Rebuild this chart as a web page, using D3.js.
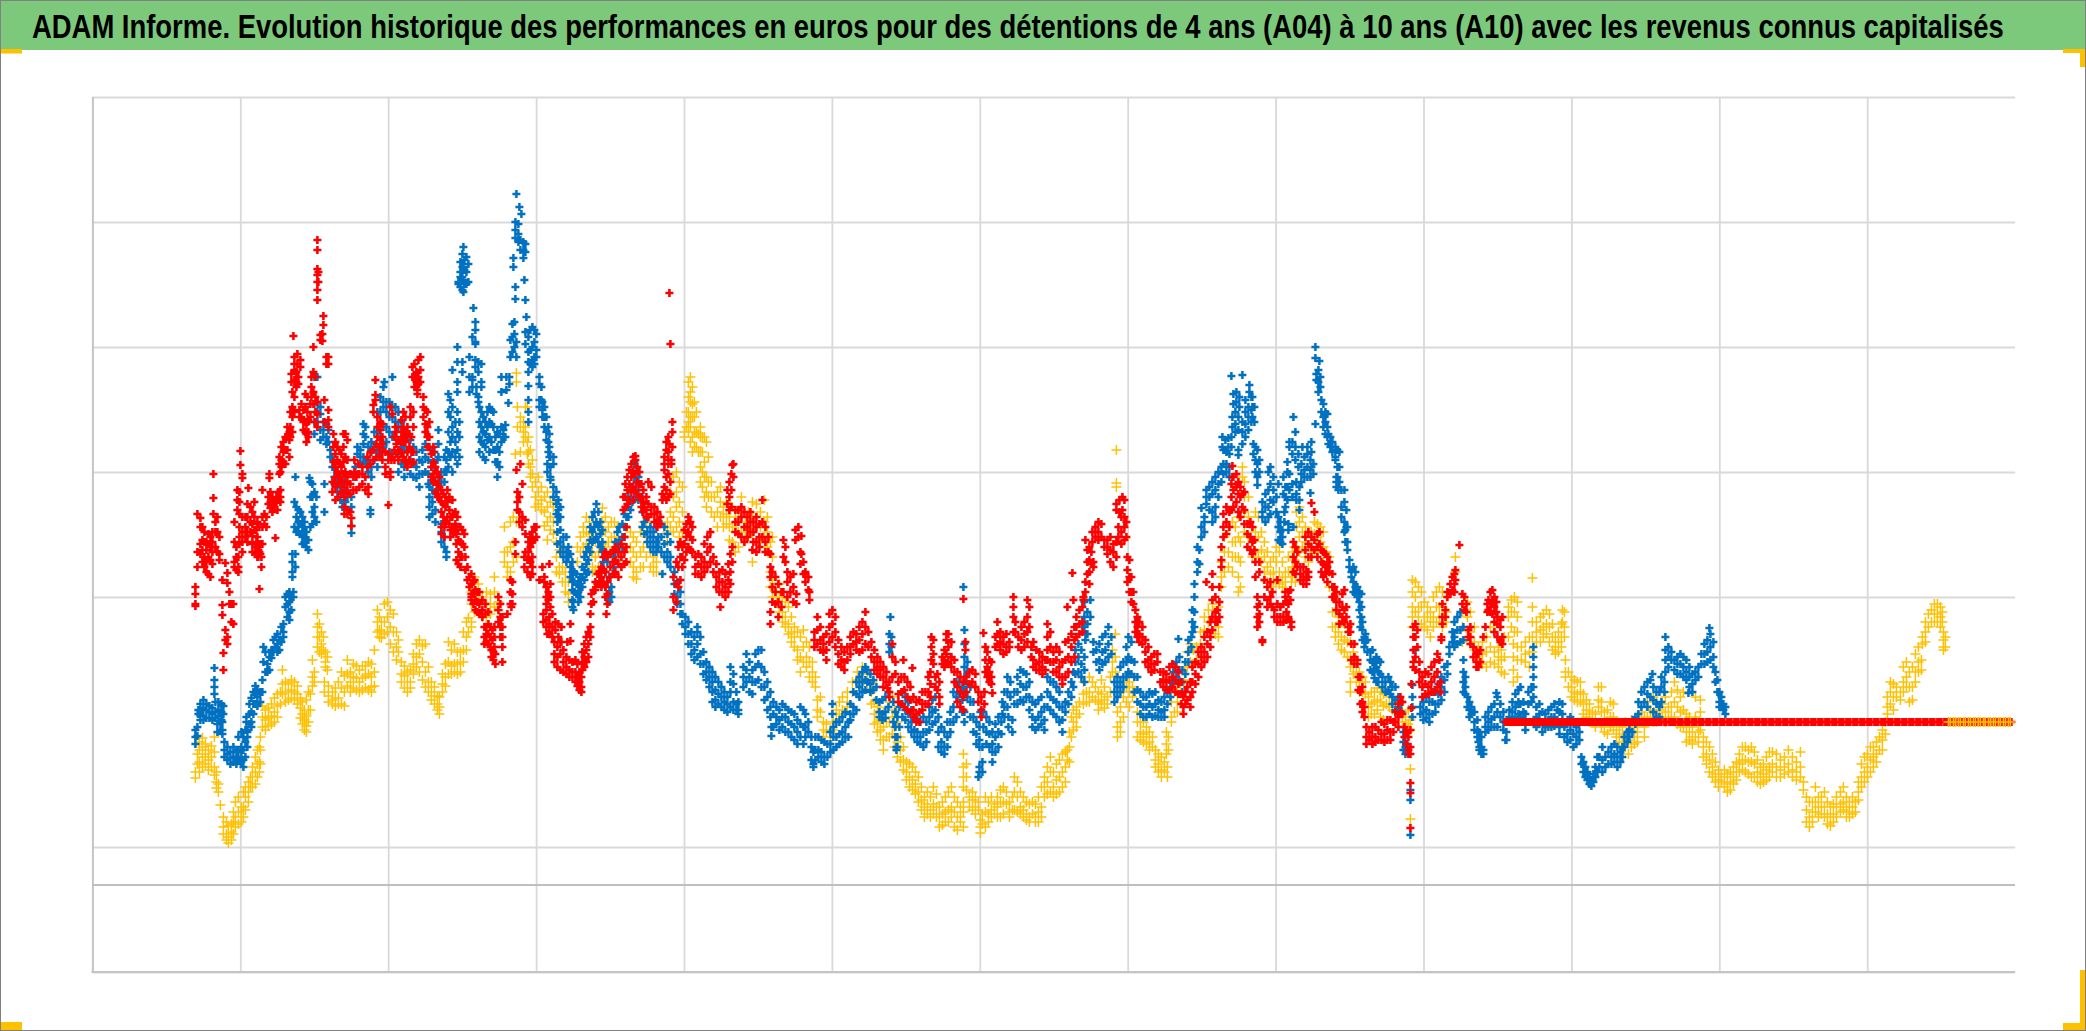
<!DOCTYPE html>
<html><head><meta charset="utf-8">
<script src="https://cdnjs.cloudflare.com/ajax/libs/d3/7.8.5/d3.min.js"></script>
<style>html,body{margin:0;padding:0;background:#fff}svg{display:block}</style>
</head><body><svg id="c" width="2086" height="1031"></svg>
<script>
const titleText = "ADAM Informe. Evolution historique des performances en euros pour des détentions de 4 ans (A04) à 10 ans (A10) avec les revenus connus capitalisés";
const xTicks = [0,147.9,295.8,443.7,591.6,739.5,887.4,1035.3,1183.2,1331.1,1479,1626.9,1774.8];
const yTicks = [750,875,1125,1250,1375,1500,1625];
const axisCrossing = 837;
// rows: [date index, value, value, ...]
const a10Rows = [
[103,950,944],[105,958,968],[107,980,972,960,950],[110,984,975,965,955],[113,978,968,958],[116,972,962,952],[119,976,965,955],[122,985,970,955,947],[124,950,940,934],[126,938,930],[128,917],[131,905,895,888],[134,900,888,882],[136,896,885,879],[139,898,890,882],[141,910,900,888],[143,920,905,895],[146,925,910,898],[149,915,905,900],[151,930,915,905],[153,935,925,912],[156,940,930,920],[158,945,935],[160,955,945,935],[163,965,950,938],[165,972,958,945],[167,975,960,950],[168,985,972,958],
[170,1016,1005,995],[173,1012,1002,992],[176,1014,1004,996],[179,1018,1006,998],[182,1024,1010,1000],[185,1028,1016,1005],[188,1030,1018],[190,1052,1038,1028],[193,1040,1030,1020],[196,1038,1030,1022],[199,1042,1032,1024],[202,1040,1030,1022],[205,1036,1028,1018],[208,1024,1014,1004],[210,1020,1008,998],[212,1012,1002,992],[214,1022,1006,996,990],[216,1030,1012,1000],[218,1028,1012],[220,1062,1045,1036],[222,1050,1040],[225,1108,1095,1085,1075],[227,1098,1085,1070],[229,1090,1078,1068],[231,1085,1072],[233,1060,1070,1055],[235,1065,1052],[232,1040,1030],[236,1036,1026,1020],[240,1030,1022,1018],[243,1034,1024,1016],[246,1040,1024,1018],[249,1050,1034,1018],[252,1046,1030,1016],[255,1062,1048,1036],[258,1050,1040,1030],[261,1058,1045,1034],[264,1056,1044,1032],[267,1052,1040,1030],[270,1056,1044,1032],[273,1056,1046,1034],[276,1060,1048,1032],[279,1058,1045,1035,1030],[282,1072,1050,1036],[285,1112,1100,1090],[287,1105,1092,1085],[289,1100,1090,1084],[292,1118,1100,1088],[295,1120,1105,1090],[298,1112,1095,1078],[301,1108,1090,1070],[304,1090,1075,1062],[306,1082,1070],[309,1060,1048,1040],[312,1056,1046,1034],[315,1050,1040,1030],[318,1052,1040,1034],[321,1068,1058,1048],[324,1078,1065,1055],[327,1082,1068,1050],[330,1076,1060,1042],[333,1078,1050,1035],[336,1055,1040,1030],[339,1040,1030,1022],[342,1035,1026,1018],[345,1026,1018,1012],[347,1025,1015,1008],[350,1048,1038,1030],[353,1058,1045,1036],[356,1080,1060,1048],[359,1072,1056,1048],[362,1078,1058,1050],[365,1070,1058,1048],[368,1070,1060,1050],[371,1090,1072,1060],[374,1100,1085,1072],[376,1104,1090],
[379,1130,1118,1100,1095],[382,1145,1125,1110],[386,1138,1125],[390,1125,1112,1105],[394,1130,1118,1105],[398,1128,1118,1108],[402,1145,1130,1115],[406,1120,1112],[412,1195,1170,1160],[415,1170,1155,1145],[418,1200,1175,1150],[421,1205,1180,1160],[423,1268],[424,1349,1340,1200,1165],[425,1315,1295],[428,1305,1295,1270],[431,1300,1290,1280],[433,1315,1295,1285],[435,1315,1280,1268],[436,1285,1270,1258],[438,1272,1255,1245],[440,1262,1248,1235],[443,1240,1225,1215],[446,1245,1230,1218],[449,1235,1222,1212],[452,1225,1210,1196],[455,1230,1215,1200,1182],[458,1242,1220,1205,1192],[461,1215,1200,1188],[464,1180,1165,1150],[467,1172,1155,1148],[470,1170,1155,1140],[473,1150,1140,1130],[476,1140,1128,1120],[485,1175,1160],[488,1185,1170],[491,1195,1190,1175],[494,1205,1190,1178],[497,1200,1188,1170],[500,1185,1170,1155,1150],[503,1180,1165,1152],[506,1170,1155],[510,1214,1200,1190,1178],[513,1205,1190,1175],[516,1195,1180,1165],[519,1200,1185,1170],[522,1200,1185,1172],[525,1195,1180],[528,1178,1165],[538,1190,1175,1160],[541,1185,1170,1155,1145],[544,1180,1165,1150,1143],[548,1190,1170,1155],[551,1200,1175,1155],[554,1200,1185,1165],[558,1195,1170,1155],[561,1165,1155,1150],[564,1175,1160,1150],[575,1200,1190,1180],[578,1230,1210,1195],[581,1245,1225,1205,1190],[584,1250,1230,1215,1195],[587,1240,1220,1200,1185],[590,1235,1210,1190],[592,1290,1285],[594,1310,1295],[596,1340,1325,1310,1300,1290],[598,1345,1330,1320,1305,1295,1280],[600,1335,1318,1305,1285,1270],[602,1320,1305,1290,1275],[604,1310,1290,1275],[606,1288,1270],[608,1295,1285,1270,1255,1240],[610,1285,1270,1250,1235],[612,1285,1260,1245,1225],[614,1280,1245,1230,1215],[616,1265,1240,1225],[619,1240,1225,1210],[622,1225,1205],[625,1230,1210,1195],[628,1235,1220,1205],[631,1215,1205,1195],[634,1220,1208,1198],[637,1205,1195,1182],[640,1215,1195,1180],[643,1205,1190,1175,1170],[646,1210,1190,1175],[649,1225,1205,1190],[653,1200,1190,1185],[656,1210,1195,1185],[660,1220,1205,1190,1160],[664,1218,1205,1195],[668,1210,1195,1180],[672,1222,1200,1185],[675,1205,1190,1175],[678,1180,1150,1135],[680,1185,1165,1142,1125],[684,1130,1120],[687,1138,1125,1110],[690,1125,1110,1100],[693,1120,1105,1095],[696,1115,1098,1088],[699,1105,1090,1080],[702,1095,1085,1075],[705,1090,1072,1062],[708,1085,1065,1050],[711,1092,1075,1060],[714,1080,1065,1055],[717,1075,1060,1045],[720,1060,1050,1040],[723,1045,1035],
[725,1022,1012,1005],[728,1025,1010],[731,1000,992,985],[734,998,990],[738,990,985],[741,1000,992],[744,1012,1002],[747,1020,1008],[750,1025,1012],[755,1030,1020,1015],[760,1040,1030],[765,1050,1042],[770,1055,1048],[775,1048,1038],[780,1040,1032],[779,1030,1018],[782,1020,1008,998],[785,1015,1000,990],[788,1002,992,982],[791,1010,995,982,972],[794,1000,985],[797,1020,1000,985],[800,1025,1005,988],[802,1012,995,975],[805,1000,980,965],[808,985,972,960],[811,975,962,952],[814,960,950,942],[817,958,945,935],[820,955,942,932],[823,950,938,928],[826,945,930,920],[829,935,922,912],[832,925,915,905],[835,930,918,908],[838,925,912,905],[841,935,918,908],[844,928,915,905],[847,915,905,895],[850,920,908,897],[853,925,910,900],[856,930,912,900],[859,935,915,905],[862,925,910,895],[865,920,905,892],[868,915,905,900],[871,968,955,945,935,920,910,895],[874,958,945,932],[877,925,915],[880,930,922,915,912],[883,925,915,908],[886,920,912],[888,902,895,889],[890,908,898],[893,925,910,895],[896,920,908,900],[899,925,912,905],[902,918,908],[905,925,915,905],[908,932,920,905],[911,935,920,908],[914,930,918],[917,920,910,905],[920,925,912],[922,945,930,912],[925,940,925,910],[928,930,915,908],[931,925,912,905],[934,920,908,902],[937,918,905,900],[940,920,908],[943,918,905,900],[946,925,910,900],[949,935,915,905],[952,945,935,925],[955,955,940,928],[958,965,950,930],[961,950,935,925],[964,958,942,928],[967,962,945,930],[970,968,950,935],[973,970,955,940],[975,972,962],[977,990,975,960],[979,1005,985],[981,1012,1000,992],[984,1015,1005,995],[987,1020,1008],[991,1040,1028,1018],[994,1030,1020],[997,1045,1030,1020],[1000,1040,1025],[1003,1035,1022],[1006,1030,1020,1012],[1009,1042,1028,1018],[1012,1035,1022,1014],[1015,1025,1018],[1018,1045,1030],[1020,1072,1060,1050],[1023,1088,1065,1050],[1024,1272,1239,1235],[1025,1030,1010,995,985],[1028,1035,1015,1000,990],[1031,1040,1025,1005],[1034,1045,1035,1020],[1037,1040,1030,1015],[1040,1035,1025],[1045,1010,1000,985],[1048,1000,990,982],[1051,1000,988,980],[1054,995,985,978],[1057,990,980,972],[1060,985,975],[1063,972,962,955],[1066,968,958,950],[1069,965,952,945],[1072,960,950],[1074,990,978,968],[1075,955,945],[1076,985,972],[1079,1020,1005,1000],[1082,1030,1010],[1085,1030,1020,1010],
[1088,1040,1030],[1092,1055,1042],[1095,1070,1055],[1098,1078,1060],[1101,1072,1058],[1104,1075,1062],[1108,1090,1078],[1112,1105,1092],[1116,1112,1100],[1120,1118,1105],[1123,1100,1088],[1126,1115,1095,1085],[1129,1160,1145,1135],[1132,1185,1170,1150],[1136,1195,1170,1155],[1140,1200,1180,1165,1150],[1143,1195,1180,1165],[1146,1205,1185,1165,1145,1130],[1148,1180,1160,1135],[1150,1255,1245],[1152,1240,1225,1210,1190],[1156,1225,1205,1185],[1160,1195,1180,1165],[1163,1210,1190,1170],[1166,1205,1185,1165],[1169,1190,1172,1160],[1172,1180,1165,1150],[1175,1170,1155,1140],[1178,1160,1148,1135],[1181,1165,1150,1140],[1184,1175,1160,1140],[1187,1170,1150,1138],[1190,1160,1145,1135],[1193,1150,1140,1130],[1196,1165,1150],[1199,1150,1140],[1200,1170,1155,1145],[1202,1175,1162],[1203,1155,1140],[1204,1210,1195,1175],[1207,1215,1200,1185,1170],[1210,1205,1190,1175],[1213,1195,1180,1165],[1216,1190,1175,1160],[1219,1190,1175,1165],[1222,1200,1188,1170],[1225,1198,1185,1170],[1228,1195,1180],[1231,1190,1175,1160],[1234,1170,1150],[1237,1165,1150,1135],[1240,1125,1110,1095],[1243,1110,1095,1085],[1246,1105,1090,1078],[1249,1100,1085,1072],[1252,1098,1082,1070],[1255,1095,1080,1065],[1258,1080,1065,1055,1040,1030],[1261,1070,1058,1048],[1264,1062,1050,1040],[1267,1050,1040,1030],[1270,1045,1030,1018],[1273,1040,1028],[1276,1025,1015,1005],[1279,1030,1018,1008],[1282,1030,1020,1008],[1285,1034,1022,1012],[1288,1030,1020,1005],[1291,1028,1016,1002],[1294,1030,1018],[1297,1025,1015],[1300,1018,1012],[1303,1020,1010],[1310,1010,1000],[1313,1005,995],[1316,1012,998,990],[1318,1002,992,953,903],
[1320,1142,1130,1115,1105,1095],[1323,1140,1125,1110],[1326,1135,1115,1105],[1329,1130,1115,1098],[1332,1120,1105,1095],[1335,1115,1105,1092],[1338,1110,1100,1085],[1341,1125,1105,1095],[1344,1130,1115,1100],[1347,1135,1115,1105],[1350,1130,1115,1095],[1354,1125,1110,1100],[1363,1165,1150],[1370,1110,1095,1080],[1375,1120,1105,1085],[1378,1110,1090],[1382,1095,1080,1072],[1386,1075,1065,1060],[1390,1080,1068,1058],[1394,1085,1070,1055],[1398,1095,1075,1060],[1402,1090,1070,1058],[1406,1075,1065,1055],[1409,1072,1062,1050],[1412,1085,1065,1048],[1416,1115,1105,1085],[1419,1122,1110,1095],[1421,1078,1065,1052,1040],[1422,1125,1110,1090],[1425,1120,1105,1090,1075,1062,1045],[1429,1075,1062],[1433,1080,1068,1060],[1437,1085,1070,1055],[1440,1144,1115,1100,1085,1070],[1444,1100,1090,1080],[1448,1105,1092,1080],[1451,1108,1095,1085],[1454,1112,1098,1088],[1457,1108,1095,1080],[1460,1098,1085,1072],[1463,1085,1075,1068],[1466,1090,1080,1070],[1469,1098,1085,1075],[1470,1112,1100],[1472,1110,1095,1085],[1473,1062,1050,1045],[1476,1050,1035],[1479,1045,1035,1025],[1482,1042,1030,1022],[1485,1040,1028,1020],[1488,1040,1030,1020],[1491,1028,1018,1008],[1494,1022,1012,1005],[1497,1018,1008,1000],[1500,1010,1000],[1503,1008,995],[1506,1035,1022,1015],[1509,1035,1020,1010,995],[1512,1010,1000,990],[1515,1012,1000,988],[1518,1020,1005,995],[1521,1018,1005,992],[1524,1000,992,985],[1527,998,988,980],[1530,995,985,975],[1533,1000,985,975],[1536,998,982,968],[1539,1002,990,975],[1542,995,985,978],[1545,1000,990,980],[1549,1010,1000],[1552,1005,995,985],[1555,1020,1005],[1558,1012,1003],[1561,1025,1010,1000],[1564,1020,1008,1000],[1567,1012,1002],[1570,1018,1005],[1573,1025,1010,1000],[1576,1015,1005],[1579,1030,1015,1005],[1582,1040,1020,1005],[1585,1032,1015,998],[1588,1025,1010,995],[1591,1030,1012,995],[1594,1008,990,980],[1597,1005,990,982],[1600,995,985,978],[1603,1025,1005,985],[1606,1000,990,980],[1608,1022,1010,992],[1611,985,975,965],[1614,980,968,958],[1617,975,962,950],[1620,968,955,945],[1623,960,948,940],[1626,952,942,935],[1629,948,940],[1632,952,945,935],[1635,948,938,930],[1638,950,940,932],[1641,955,945,938],[1644,960,950,942],[1647,968,958,950],[1650,975,962,952],[1653,975,962,950],[1656,972,960,948],[1659,975,960,945],[1662,970,958,945],[1665,962,950,940],[1668,955,945,938],[1671,958,948,940],[1674,965,952,942],[1677,970,955,945],[1680,970,958,950],[1684,968,955,945],[1688,962,952,945],[1692,965,955,948],[1696,972,958,950],[1700,965,952,945],[1704,960,950,942],[1708,970,955,945],[1711,940,932],[1714,925,912,900],[1717,920,905,895],[1720,920,910,900],[1723,935,920,910],[1726,925,915,905],[1729,925,915,908],[1732,930,915,905],[1735,920,908,898],[1738,915,905,896],[1741,918,908,900],[1744,925,915,905],[1748,930,918,910],[1751,935,920,912],[1754,925,915,905],[1757,920,910,905],[1760,925,915,908],[1763,920,910],[1766,940,930,922],[1769,958,945,935],[1772,965,950,940],[1775,968,955,945],[1778,975,962,950],[1781,975,965,955],[1784,980,968,960],[1787,985,972],[1790,992,982,972],[1793,1000,988],[1795,1025,1015,1008],[1798,1040,1030,1018],[1801,1038,1025,1012],[1804,1035,1025],[1808,1030,1022],[1811,1055,1040,1030],[1814,1060,1045,1035],[1817,1050,1035,1020],[1820,1055,1035,1022],[1823,1068,1050,1040],[1826,1075,1060,1050],[1829,1062,1052],[1830,1085,1078],[1833,1100,1090,1080],[1836,1108,1095],[1839,1112,1100],[1842,1118,1108,1100],[1845,1118,1108,1100],[1848,1115,1105,1095],[1850,1110,1100],[1851,1090,1082,1075,1072],[1853,1085,1075]
];
const a10FlatDates = [1856,1858,1861,1863,1866,1868,1871,1873,1876,1878,1881,1883,1886,1888,1891,1893,1896,1898,1901,1903,1906,1908,1911,1913,1916,1918];
const a04Rows = [
[103,992,985,978],[105,995,986],[106,1008,1012],[108,1018,1010,1006,1002],[111,1022,1014,1006,1002],[114,1018,1012,1004],[117,1016,1010,1004],[120,1014,1008,1002],[122,1054,1042,1035,1028],[123,1020,1010,1004],[125,998,990],[126,1020,1012,1006],[128,1000,992],[129,1018,1010,1002],[130,1000,992,988],[131,1016,1008],[132,980,972,965],[135,975,968,962],[138,970,964,958],[141,975,965,960],[144,972,964,958],[146,985,970,962],[149,990,975,965,960],[151,985,972,962,955],[153,992,980,965],[154,1005,1000,992],[155,990,985,975],[157,1018,1008,998],[159,1024,1010,1000,995],[161,1030,1018,1008],[163,1036,1028,1018],[165,1032,1025,1016],[168,1030,1020],[170,1042,1030],[171,1075,1060],[173,1070,1050],[175,1058,1050],[177,1065,1052],[179,1072,1064],[181,1082,1070],[183,1085,1075],[185,1088,1078,1070],[187,1082,1072],[189,1095,1080],[191,1098,1090,1085],[193,1125,1115],[195,1128,1118,1105],[197,1130,1120,1110,1102],[199,1125,1112],[200,1168,1160,1150,1145],[201,1130,1125],[202,1220,1195],[203,1245,1168,1155],[204,1215,1205,1190],[206,1212,1200,1190],[208,1210,1198,1188],[210,1205,1195,1185,1178],[212,1200,1190,1180],[214,1190,1182,1175],[216,1182,1172],[217,1244],[218,1240,1225,1195],[220,1238,1225,1210,1198],[222,1345,1318,1300,1288,1230,1215,1205],[224,1225,1200],[225,1345,1320,1310,1300],[228,1315,1308,1292,1282],[231,1300,1292,1285],[232,1238,1210],[234,1298,1285,1278],[236,1292,1280],[238,1272,1265],[240,1265,1255],[242,1255,1245,1238],[245,1250,1240,1230],[248,1245,1235,1222],[250,1240,1228,1215],[253,1245,1232,1220],[255,1238,1225,1212],[259,1225,1215,1196,1189],[263,1255,1245],[265,1275,1268],[268,1272,1265,1258],[271,1298,1288,1278,1265],[273,1295,1285,1260],[276,1275,1262,1250],[278,1212,1208],[279,1280,1270,1255,1245],[282,1290,1275,1262],[285,1310,1290,1270,1255],[288,1325,1310,1285,1270],[291,1335,1320,1315,1295,1275],[292,1340],[294,1320,1310,1295,1280],[297,1320,1305,1290,1270],[300,1345,1315,1305,1285,1265],[303,1315,1300,1285],[306,1310,1295,1270,1250],[309,1300,1275,1258],[312,1290,1272,1255,1245],[315,1288,1272,1258],[318,1282,1262,1248],[321,1275,1258,1245],[324,1270,1255,1244],[327,1262,1248,1235],[330,1272,1260,1248],[333,1278,1265,1250],[336,1275,1262,1248,1238],[337,1235,1225,1215,1205],[339,1272,1255,1242],[340,1232,1220,1208],[342,1270,1255,1240],[343,1228,1212,1200],[345,1262,1248,1232],[346,1292,1278,1265,1240,1225],[349,1250,1240,1198,1190,1180],[352,1265,1250,1240,1185,1175],[354,1272,1262,1250,1170,1165],[356,1328,1310,1290,1270,1255],[358,1322,1305,1280,1265],[360,1352,1315,1295,1285,1270,1250],[363,1300,1280,1265],[365,1375,1360,1340,1330,1310,1290,1272,1258],[366,1440,1438],[367,1300,1285,1265],[368,1460,1450,1445,1435],[370,1468,1455,1445,1432,1360,1350],[371,1475,1455,1442,1430],[372,1462,1452,1438],[374,1465,1450,1438],[376,1458,1440],[377,1365,1345,1330],[380,1385,1345,1342,1335],[381,1414],[383,1400,1392,1380,1378,1362,1355],[384,1335,1328],[386,1360,1350,1325,1320],[387,1315,1300,1285,1270],[389,1358,1340,1335,1310,1295,1280],[391,1305,1290,1278,1265],[393,1300,1288,1275,1262],[395,1310,1295,1282],[397,1315,1300,1285,1270],[399,1312,1298,1280],[401,1310,1295,1272],[403,1285,1272,1260],[405,1290,1275,1260,1245],[407,1288,1270,1255],[409,1345,1330,1295,1280],[411,1292,1285],[413,1297,1285],[414,1345,1332],[416,1319],[417,1345,1338],[418,1382,1365],[420,1398,1385,1370],[421,1464,1455],[422,1400,1388,1375],[423,1500,1492,1484,1435,1423],[424,1528,1380,1365],[426,1498,1488,1480],[427,1515],[428,1482,1472],[429,1508],[431,1480,1472,1464],[432,1442],[433,1478,1470,1422,1390,1378],[434,1405],[436,1385,1370,1360,1350,1336,1322,1310,1300],[438,1392,1372,1358],[440,1395,1375,1362,1355],[442,1392,1380,1365,1358],[444,1388,1372,1365],[447,1345,1338,1322,1315],[449,1335,1322],[450,1320,1312,1305],[452,1315,1305,1295],[454,1305,1290,1282],[455,1258,1250],[456,1295,1280,1270],[457,1288,1275,1265],[458,1265,1255,1245,1242],[461,1265,1258,1235,1225],[464,1230,1218,1208],[465,1200,1190,1178],[466,1222,1212,1205],[468,1215,1205,1192,1180,1170],[471,1185,1175,1165],[474,1185,1170,1160],[476,1175,1165],[478,1168,1155,1145],[480,1160,1150,1140,1132,1122,1115],[481,1120,1112],[482,1150,1140,1130],[484,1148,1138,1128],[486,1140,1130,1120],[488,1145,1135,1125],[490,1155,1145,1135],[492,1165,1152,1142],[494,1170,1158,1148],[496,1175,1162,1150],[498,1195,1182,1170],[500,1205,1190,1180],[502,1210,1195,1182],[504,1218,1200,1185],[506,1210,1195,1180],[508,1200,1188,1175],[510,1192,1180,1170],[511,1172,1160],[513,1165,1150,1135],[515,1160,1140,1125],[517,1145,1130,1120],[519,1135,1125],[521,1165,1155],[523,1180,1170],[525,1190,1178],[527,1195,1182,1175],[530,1198,1185,1175],[532,1208,1195,1185],[534,1215,1205,1195],[536,1225,1215,1205],[538,1235,1222,1212],[540,1250,1235,1220],[542,1260,1245,1230],[544,1255,1240,1225],[546,1245,1232,1222],[548,1238,1225],[550,1225,1210,1195],[552,1215,1200,1188],[555,1205,1190,1180],[558,1195,1185,1175],[561,1190,1180,1170],[564,1195,1180,1170],[566,1200,1185,1175],[569,1198,1185,1170],[570,1148],[572,1195,1178,1165],[575,1188,1170,1160],[578,1180,1165,1155],[582,1150,1138,1128],[585,1140,1125,1118],[588,1130,1118,1108],[590,1108,1098],[593,1105,1095,1088],[596,1100,1088,1078],[599,1090,1078,1068],[602,1085,1072,1062],[605,1095,1090,1078,1065],[608,1085,1068,1058],[611,1070,1058,1048],[614,1060,1050,1042],[617,1055,1045,1035],
[620,1050,1040,1030,1020],[623,1045,1032,1022,1015],[626,1040,1028,1018],[629,1035,1025,1015],[632,1030,1020,1012],[635,1025,1018,1010],[638,1055,1040,1030,1015],[641,1048,1038,1020,1012],[644,1030,1018,1012],[646,1020,1012,1008],[651,1055,1045,1035],[654,1068,1052,1040],[657,1060,1045,1030],[660,1052,1040,1028],[663,1068,1055,1040],[666,1072,1058,1042],[669,1072,1055,1035],[672,1050,1035,1022],[675,1040,1025,1012],[678,1030,1015,1005],[679,995,986],[681,1020,1008,995],[684,1015,1005,998],[687,1012,1002,992],[690,1018,1005,995],[693,1015,1005,990],[696,1012,1000,990],[699,1010,998,985],[702,1008,995,982],[705,1002,990,978],[708,1015,998,985],[711,1012,995,978],[713,1008,995,985],[716,1000,990],[719,985,975,962],[721,970,958,955],[723,985,972,962],[726,985,972,965],[729,982,970,960],[732,980,965,958],[735,978,965],[738,990,978,970],[740,1018,1008],[741,995,985,972],[744,1000,985,975],[747,1000,988,978],[750,1005,990,980],[753,1010,995,985],[756,1000,985],[758,1018,1008,1002],[761,1030,1015,1008],[764,1040,1028,1012],[767,1045,1035,1025],[770,1050,1040,1030],[773,1055,1042,1032],[775,1052,1040],[778,1048,1038,1030],[781,1042,1032],[784,1035,1022],[787,1020,1010,1005],[790,1022,1008,1002],[793,1025,1010,1004],[796,1030,1015],[797,1088,1078,1070],[798,1105],[799,1085,1075],[801,1020,1000],[803,1010,995,985],[804,975,972],[805,1005,985,975],[807,1015,995],[810,1030,1018,1005],[813,1025,1012,1002],[816,1020,1008,995],[819,1012,1000,990],[822,1005,992,985],[825,1002,990,980],[828,1000,985,978],[831,1005,990,975],[834,1000,990,980],[837,1015,1005,992],[840,1022,1010,998],[843,1025,1012,1000],[846,1005,990,975],[849,995,980,970],[852,990,975,968],[855,1000,985,975],[858,1010,1000,990],[861,1030,1015,1000],[864,1040,1025,1005],[867,1040,1028],[870,1035,1022,1010],[871,1135],[872,1092,1078,1065,1055,1045,1030,1010,1000],[875,1060,1050,1038,1025],[878,1035,1020,1005],[881,1020,1005,990],[884,1000,988,978],[886,945],[887,995,982,975,955,950],[888,1010],[890,975,960,950],[891,1010,995],[894,1005,990,978],[897,1000,988,975],[900,990,978,970,960],[903,998,985,970],[906,1005,990,975],[909,1000,988],[910,1020,1008],[912,1030,1015,1005],[915,1045,1030,1015],[916,1005,995],[918,1040,1025],[920,1002,990],[922,1030,1018],[925,1045,1030,1018],[928,1052,1038,1022],[931,1050,1035,1020],[934,1048,1035,1025],[937,1040,1025,1012],[940,1020,1005,995],[943,1018,1002,992],[946,1022,1005,995],[949,1025,1010,998],[952,1015,1002,992],[955,1045,1030,1015],[958,1040,1025,1012],[961,1040,1022,1008],[964,1035,1020,1005],[967,1030,1015,1000],[970,1015,1002,990],[973,1020,1010],[976,1030,1018],[979,1040,1025],[981,1050,1035],[983,1072,1060,1048],[986,1078,1065,1050],[989,1072,1058,1045],[992,1120,1105,1095,1065,1052,1040],[993,1088,1082],[995,1110,1098,1088],[998,1122,1105],[1001,1080,1070],[1004,1072,1060],[1007,1078,1062,1052],[1010,1085,1070,1058],[1013,1088,1072,1060],[1016,1095,1078,1065],[1019,1085,1068],[1022,1040,1030,1020],[1025,1045,1035,1025],[1028,1055,1040,1030],[1031,1060,1045,1035],[1034,1075,1060,1045],[1036,1085,1065,1050],[1039,1080,1062,1048],[1042,1060,1045,1030],[1045,1045,1032,1020],[1048,1030,1018,1008],[1051,1025,1015,1005],[1054,1025,1015,1005],[1057,1030,1018,1008],[1060,1028,1015,1005],[1063,1030,1018,1006],[1066,1022,1012,1005],[1069,1020,1010,1005],[1072,1025,1012,1005],[1075,1030,1018],[1078,1035,1025],[1081,1050,1040],[1084,1060,1045],[1086,1083],[1087,1065,1052,1040],
[1090,1052,1040,1030],[1093,1060,1048],[1096,1082,1070,1060],[1099,1085,1075],[1100,1112,1100,1090],[1102,1138,1125,1110,1095],[1105,1175,1160,1150],[1107,1172,1158],[1109,1214,1195,1185],[1112,1205,1200,1190],[1114,1232,1225,1218],[1117,1235,1225,1212],[1120,1240,1228,1210,1200],[1123,1245,1232,1215,1205],[1126,1250,1238,1225],[1129,1255,1240],[1130,1285,1275],[1131,1272,1258,1248],[1133,1282,1272],[1134,1270,1258,1250],[1136,1284,1275],[1137,1268,1255,1245],[1139,1346,1285,1275],[1140,1305,1295],[1141,1328,1318],[1143,1310,1298,1290],[1144,1330,1320],[1146,1305,1292,1272,1267],[1147,1325,1315],[1150,1347,1300,1290,1278],[1153,1322,1310,1298,1285],[1156,1315,1305,1292],[1157,1337,1330],[1159,1325,1312,1300],[1160,1325,1315,1305],[1161,1278,1268],[1162,1315,1300],[1163,1275,1262,1250],[1165,1272,1258,1245,1237],[1167,1262,1250],[1170,1220,1210,1205],[1173,1228,1215,1200],[1176,1250,1232,1215,1205],[1178,1255,1238,1222,1208],[1181,1245,1232,1220],[1184,1225,1210],[1186,1238,1205,1195,1182],[1188,1200,1190,1180],[1190,1192,1185,1178],[1191,1245,1228],[1192,1210,1200],[1193,1235,1225,1215],[1195,1260,1250,1235,1222],[1196,1198,1192],[1197,1280,1275,1248,1232],[1200,1280,1268,1238,1225],[1201,1305,1195],[1203,1290,1275,1262],[1204,1240,1228,1222],[1206,1268,1255],[1207,1235,1222,1212],[1209,1258,1248,1240],[1210,1275],[1212,1265,1252,1245],[1215,1275,1268,1255,1245],[1218,1262,1252,1245,1229],[1219,1280,1270,1255],[1221,1258,1248],[1223,1375,1364,1298],[1224,1348,1342],[1226,1352,1340,1330],[1227,1361],[1228,1345,1335],[1229,1322,1310],[1231,1318,1305,1295],[1233,1310,1300,1288],[1235,1308,1295,1285],[1236,1288,1278],[1238,1285,1275],[1240,1280,1270],[1243,1275,1265,1262],[1244,1245,1240,1235],[1245,1272,1255,1245],[1246,1240,1232],[1247,1270,1255,1240],[1249,1232,1215,1205],[1252,1232,1220,1200,1190],[1253,1192,1180],[1254,1212,1195],[1255,1195,1180,1172],[1257,1162,1155],[1259,1150,1145],[1261,1155,1140,1130],[1263,1150,1135,1128],[1265,1135,1125],[1267,1130,1120,1112],[1268,1105,1095],[1269,1128,1115,1105],[1270,1100,1092,1082],[1272,1085,1075],[1273,1088,1080],[1275,1082,1070],[1278,1070,1062,1052],[1280,1072,1060,1050],[1282,1060,1050,1044],[1284,1065,1055,1040],[1286,1062,1050,1040],[1288,1060,1048],[1290,1045,1035],[1293,1040,1030],[1296,1045,1032],[1298,1040,1028],[1300,1035,1025,1018],[1303,1035,1022,1012],[1306,1025,1015,1008],[1309,1020,1010],[1311,990,980,972],[1313,985,975,968],[1315,978,970],[1318,932,922,887],[1320,1037,1025,1015,1005],[1323,1072],[1328,1015,1008],[1331,1020,1010,1002],[1334,1025,1012,1004],[1337,1020,1008,1000],[1340,1030,1020,1008],[1343,1030,1018,1010],[1346,1038,1028,1018],[1349,1045,1035,1022],[1352,1055,1042,1030],[1355,1058,1048],[1357,1075,1068],[1360,1090,1080],[1362,1100,1085,1075],[1365,1105,1092,1078],[1368,1110,1092,1080],[1371,1095,1082,1062,1050,1040,1030],[1373,1045,1035,1028],[1375,1025,1015],[1377,1020,1012,1005],[1379,1015,1008],[1382,1010,1000,992],[1385,1002,992,985],[1386,990,980],[1387,985,975,972],[1389,985,975,968],[1391,972,968],[1393,1005,995,990],[1396,1010,1000,992],[1399,1015,1003,995],[1402,1018,1005,995],[1404,1029],[1405,1025,1010,995],[1408,1018,1005],[1411,1010,1000,992],[1413,982],[1414,1000,990,982],[1417,1012,1005],[1420,1020,1010],[1423,1028,1015,1005],[1426,1032,1020,1008],[1428,1035,1018,1005],[1431,1020,1010,1002],[1433,1008,998,992],[1436,1030,1018],[1439,1035,1020],[1441,1075,1065,1055,1045,1035,1025],[1444,1015,1005,995],[1447,1018,1008,998],[1450,1010,1000,990],[1453,1008,1000,995],[1456,1012,1002,995],[1459,1015,1005,995],[1462,1018,1005,996],[1465,1012,1002],[1467,1020,1010,995,988],[1470,1018,1008,1000],[1472,995,985],[1475,998,988,980],[1478,1005,992,982],[1481,1000,988,975],[1484,995,985,978],[1487,990,982],[1489,965,958],[1491,960,950],[1493,955,945],[1495,950,942],[1497,945,938],[1499,942,936],[1501,948,940],[1503,955,945],[1505,965,950],[1507,965,955],[1510,975,962,950],[1513,965,955],[1516,970,958],[1519,975,965,958],[1522,978,968,960],[1525,975,965,955],[1528,970,960],[1530,975,965],[1532,985,975],[1535,990,980],[1537,992,985],[1540,1000,990],[1543,1005,998],[1546,1020,1008],[1549,1030,1015],[1552,1035,1020],[1555,1040,1028,1015],[1558,1042,1025],[1560,1048],[1561,1035,1022,1010],[1564,1030,1018,1005],[1567,1030,1015,1005],[1569,1045,1035,1020],[1572,1040,1030],[1573,1085,1072,1062,1050],[1576,1075,1065,1055],[1579,1070,1062],[1582,1062,1052],[1585,1065,1058,1048],[1588,1068,1058,1048],[1591,1065,1055,1045],[1594,1062,1050,1042],[1596,1029],[1597,1055,1045,1035],[1600,1048,1038,1030],[1603,1050,1042],[1606,1055,1045],[1609,1068,1058],[1612,1078,1068,1058],[1615,1082,1070,1060],[1617,1094],[1618,1088,1075,1062],[1621,1080,1065,1055],[1623,1050,1040],[1625,1042,1030],[1627,1030,1020,1015],[1629,1025,1015],[1631,1018,1012],[1633,1015,1008]
];
const a07Rows = [
[103,1135,1128,1118,1116],[105,1208,1170,1155],[108,1204,1195,1178,1168],[110,1195,1182,1172,1160],[112,1190,1180,1165,1155],[114,1180,1172,1160,1150],[116,1188,1178,1165,1148],[118,1185,1175,1162,1145],[120,1190,1180,1170,1158],[121,1248,1224,1208],[123,1200,1190,1175],[125,1205,1190,1170],[127,1185,1168,1162],[130,1142,1117,1107],[131,1069,1052],[133,1159,1092,1082],[135,1149,1139,1085,1078],[137,1130,1118],[139,1118,1100],[141,1118,1098],[142,1200,1180,1160,1155],[144,1175,1165,1152],[145,1232,1222,1212],[146,1165,1155,1150],[147,1230,1220,1208,1195,1185,1178],[148,1271,1257],[150,1248,1244,1205,1190,1180,1170],[153,1205,1195,1185],[155,1218,1205,1190,1180],[156,1234],[158,1215,1200,1190],[160,1210,1198,1186,1178,1170],[162,1220,1205,1192],[163,1175,1168],[164,1192,1180],[165,1200,1185,1175,1165],[166,1172,1165],[167,1195,1178,1170,1133],[168,1178,1168],[169,1165,1155],[170,1232,1205,1195,1178],[172,1208,1198],[174,1205,1195],[176,1225,1218],[177,1248,1244],[178,1230,1220,1214],[180,1225,1218,1210],[182,1222,1215],[183,1184],[184,1225,1220],[185,1212],[186,1230,1222],[187,1265,1258,1248],[188,1250,1232,1225,1220],[189,1275,1262,1255],[191,1280,1270,1260],[193,1285,1272,1258],[195,1295,1285,1272],[197,1290,1282,1265],[198,1310,1295,1285],[199,1348,1340],[200,1330,1315,1305,1290],[201,1386],[202,1365,1358,1352,1342,1340,1325,1310],[204,1350,1340,1335],[205,1368,1358],[206,1345,1338],[207,1312,1305],[208,1362,1355],[209,1318,1305],[211,1312,1300,1292],[213,1328,1315,1300,1290],[214,1298,1288,1280],[215,1325,1310,1300],[216,1302,1290,1285],[218,1318,1305],[219,1345,1335,1325],[221,1375,1350,1330,1318],[223,1345,1325,1310,1300],[225,1482,1472,1453,1447,1440,1432,1422,1320,1308,1295],[226,1450,1440],[228,1387,1382],[230,1388,1381],[231,1406,1397],[232,1322,1300],[234,1365,1358],[236,1365,1358,1312,1302,1295],[240,1240,1230],[241,1288,1275,1260],[243,1280,1268,1255,1245,1235,1222],[245,1275,1262,1250],[246,1248,1238,1225],[247,1272,1258,1245],[249,1268,1255,1242,1240,1230],[251,1288,1275,1260,1248],[252,1235,1225,1215,1208],[253,1288,1265,1250],[255,1282,1262,1245,1240,1230,1212,1208],[258,1248,1238,1228,1210],[259,1204,1196],[261,1245,1232],[262,1262,1250],[264,1245,1232],[266,1258,1248],[267,1248,1235],[270,1255,1248,1238],[273,1245,1232],[275,1265,1255],[276,1235,1228],[278,1270,1258],[281,1317,1310,1272,1262],[283,1342,1327,1322],[284,1278,1265],[285,1305,1295,1285],[287,1275,1265],[288,1300,1292,1282],[290,1298,1285,1278,1270,1262],[293,1270,1255,1248],[296,1268,1262,1217],[298,1315,1250,1245],[299,1265,1262],[300,1308],[302,1285,1272,1262],[303,1295],[304,1290,1278,1268],[306,1282,1272,1262],[309,1302,1290,1280,1270],[311,1310,1295,1285,1280,1265],[313,1305,1290,1280,1260],[315,1295,1285,1270,1255],[317,1288,1275,1262],[318,1315,1305],[319,1285,1270,1258],[320,1355,1345],[321,1310,1295,1270,1260],[322,1358,1345,1335],[324,1350,1340,1335],[325,1332,1328],[326,1362,1345,1338],[328,1365,1352,1340],[331,1325,1315,1305],[333,1312,1298,1290],[335,1310,1295,1285,1275],[337,1300,1285,1275],[339,1268,1255,1245],[341,1275,1270,1260,1248,1240],[343,1255,1240,1230],[345,1250,1238,1225],[347,1245,1235,1225],[349,1232,1220,1210,1195,1188],[351,1228,1218,1205],[352,1195,1185],[353,1225,1215,1200],[355,1232,1220,1205],[357,1225,1212,1198],[358,1205,1192,1185],[360,1222,1205,1195],[361,1208,1195,1188],[363,1210,1198,1190],[364,1188,1178,1162],[365,1205,1195],[366,1182,1170,1158],[368,1195,1180,1165,1155],[370,1192,1178,1165],[372,1188,1175],[373,1165,1152],[375,1155,1142],[377,1145,1135],[379,1148,1138,1128,1125,1122],[381,1140,1128,1118],[382,1142,1130],[383,1132,1122,1112],[385,1130,1120,1110],[387,1130,1118,1108],[390,1122,1112,1105],[392,1095,1085,1078],[393,1118,1108],[394,1095,1088,1080],[396,1110,1098,1088,1078],[398,1095,1085,1075],[399,1072,1065],[400,1092,1082,1072],[401,1070,1062],[402,1095,1085,1075],[403,1068,1058],[406,1125,1112,1100],[408,1118,1105,1095,1085],[410,1105,1095,1085,1075,1060],[415,1108],[418,1142,1130,1118],[419,1115],[420,1140,1128,1118],[423,1180,1168],[424,1252],[425,1230,1220,1212],[427,1225,1210,1200],[428,1258],[430,1238,1205,1195],[432,1165,1155],[433,1202,1188,1170],[435,1162,1150],[436,1180,1170,1162],[438,1185,1175,1160,1145],[440,1190,1180,1165,1155,1148],[442,1195,1182],[444,1195,1185],[447,1142],[450,1155],[451,1108,1100],[452,1145,1140],[454,1135,1125,1118,1112,1102,1095],[455,1088],[456,1130,1122],[457,1158,1105,1098,1090],[458,1138,1125,1115],[460,1108,1095,1085],[462,1080,1068,1060],[463,1100,1092],[465,1075,1065,1055],[466,1098,1085],[468,1080,1068,1052],[469,1095,1080],[471,1072,1060,1050],[474,1065,1055,1048],[475,1080],[477,1062,1052,1045],[478,1098,1081],[480,1060,1050,1045],[483,1062,1050,1040],[485,1058,1045,1036],[487,1050,1040,1032],[489,1045,1035,1030],[490,1070,1060,1052],[492,1078,1065,1055],[494,1085,1072,1060],[496,1090,1078,1065],[498,1108,1095,1085],[499,1128,1118],[501,1132,1120],[503,1140,1132],[505,1148,1138],[507,1150,1140],[509,1155,1145,1135],[511,1165,1152,1140],[513,1170,1150,1135,1125],[514,1108],[515,1165,1140,1128,1118],[518,1168,1155,1145],[521,1172,1160,1148],[523,1175,1162,1150],[526,1170,1158,1145],[529,1178,1165,1155],[531,1225,1212],[532,1185,1170,1158],[533,1238,1225,1215],[534,1195,1175,1160],[535,1245,1232,1218],[537,1252,1238,1222],[539,1258,1245,1230],[541,1265,1250,1235,1222],[543,1266,1262,1248,1232],[545,1255,1240,1228],[547,1250,1238,1225],[549,1238,1225,1215],[551,1232,1220,1210],[554,1225,1212,1205],[556,1240,1218,1205],[559,1235,1215,1208],[562,1215,1208,1200],[565,1210,1202,1195],[568,1205,1198],[570,1228,1222],[572,1265,1258,1252,1235,1225],[574,1280,1272,1245,1232,1222],[576,1285,1270,1262,1258,1248,1225],[577,1429,1278],[578,1378,1240,1228],[579,1262,1258],[580,1300,1290,1275],[581,1145,1125,1112],[584,1160,1138,1120],[586,1175,1155,1135],[588,1180,1165,1142],[590,1175,1165,1155],[592,1192,1178,1162],[594,1198,1185,1170],[596,1205,1190,1175],[598,1200,1185,1172],[600,1195,1182,1170],[603,1165,1155,1148],[606,1168,1158,1148],[609,1165,1155,1145],[612,1178,1160,1150],[615,1185,1170,1155],[618,1190,1175,1160],[621,1165,1150],[624,1158,1145,1135],[627,1150,1140,1130],[628,1115],[630,1152,1140,1130],[633,1148,1135,1125],[635,1232,1218],[636,1158,1142,1130],[637,1240,1225,1212],[638,1168,1150,1138],[639,1248,1232,1215],[640,1257,1175,1160],[641,1258,1245],[643,1212,1200,1190],[646,1212,1200,1188],[649,1215,1205,1185],[652,1210,1195,1180],[655,1205,1195,1185],[658,1210,1200,1190],[660,1172],[661,1200,1190,1180],[664,1205,1195,1180,1170],[667,1198,1185,1175],[670,1222,1200,1185],[673,1195,1180,1170],[676,1185,1170],[678,1168,1155,1145,1110,1098],[680,1150,1135,1120],[683,1145,1130,1118],[686,1138,1120,1105],[689,1130,1115],[691,1182,1165,1130],[693,1175,1160],[695,1150,1140,1125],[698,1145,1130],[701,1148,1135,1120],[703,1192,1182],[704,1128,1118],[706,1195,1185],[708,1170,1158],[709,1186,1168],[711,1160,1148],[713,1150,1140],[716,1145,1132],[717,1130,1122],
[722,1090,1082,1075],[725,1105,1092,1078],[728,1095,1082,1072],[731,1085,1078,1070],[734,1088,1072,1062],[737,1108,1095,1080],[740,1112,1098,1085],[743,1105,1090,1075],[746,1082,1068,1058],[749,1075,1062,1055],[752,1070,1060,1052],[755,1075,1062],[758,1085,1075,1068],[761,1090,1078],[764,1088,1080,1072],[767,1095,1082,1070],[770,1100,1088,1072],[773,1110,1095,1078],[776,1090,1075],[779,1080,1065],[782,1072,1060,1052],[785,1065,1055,1048],[788,1060,1052,1045],[791,1055,1045,1035],[794,1050,1040],[795,1034],[797,1040,1030,1025],[800,1078,1065,1045],[803,1060,1048],[806,1040,1028,1020],[809,1045,1030,1018],[811,1062],[812,1045,1032,1015],[815,1040,1025,1012],[818,1035,1022,1010],[820,1054],[821,1025,1012,1005],[824,1020,1008,1000],[827,1022,1010,1000],[830,1030,1018,1012],[833,1030,1018],[836,1045,1030,1018],[838,1050,1038,1025],[839,1085,1075,1062],[841,1082,1068,1058],[843,1045,1035],[845,1048,1032],[847,1040,1025,1018],[850,1065,1058],[852,1072,1062,1055],[854,1088,1082,1068,1058],[856,1088,1075,1060],[859,1080,1065,1055],[862,1062,1050,1040],[865,1050,1035,1020],[868,1045,1030,1015],[871,1123,1040,1025,1012],[873,1080,1072],[874,1045,1030],[877,1050,1038],[880,1052,1040],[883,1048,1035],[886,1030,1020],[889,1025,1012,1005],[891,1089],[892,1030,1018],[893,1075,1062,1050],[895,1070,1055,1045],[897,1062,1050,1040],[899,1060,1045,1038],[900,1029],[903,1085,1075],[905,1100,1088,1078],[908,1090,1080,1072],[911,1085,1078,1068],[914,1088,1075,1070],[917,1080,1075],[921,1125,1115,1105,1090],[923,1100,1090],[926,1085,1075],[929,1095,1082,1072],[932,1100,1088,1075],[935,1122,1105,1090,1080],[937,1115,1095],[939,1075,1065],[941,1080,1062,1055],[944,1072,1058,1052],[947,1070,1060,1052],[950,1065,1055,1048],[953,1062,1052],[955,1098,1085,1072,1062],[958,1090,1075,1060],[961,1070,1060,1050],[964,1075,1062,1050],[967,1070,1055,1045],[970,1060,1045,1038],[973,1080,1062,1045],[975,1115],[976,1082,1065,1050],[979,1088,1075,1060],[980,1149],[981,1122],[982,1095,1082,1065],[984,1105,1095,1085],[987,1112,1098,1088],[990,1115,1100,1090],[991,1125,1122],[993,1182,1140,1130],[995,1172,1160,1148],[997,1175,1162,1150,1138],[999,1170,1158],[1000,1190,1180],[1001,1155,1160],[1003,1195,1185],[1006,1200,1190,1182],[1009,1198,1185],[1012,1182,1175],[1015,1182,1175,1168],[1018,1185,1172,1160],[1021,1178,1170,1155],[1024,1218,1212,1180,1165],[1026,1195,1185],[1027,1222,1210],[1029,1205,1190,1178],[1030,1225,1212],[1032,1222,1205,1195,1182],[1034,1200,1185],[1035,1165,1152,1140],[1037,1162,1145,1130],[1039,1145,1130,1120],[1041,1130,1118],[1043,1112,1100,1090],[1045,1105,1095,1085],[1047,1100,1088,1080],[1050,1095,1085,1078],[1053,1082,1070,1060],[1056,1075,1062,1055],[1059,1065,1058,1050],[1062,1068,1058,1052],[1065,1068,1060],[1068,1050,1040],[1071,1050,1042,1035],[1074,1048,1040,1032],[1077,1055,1042,1032],[1080,1058,1045,1035],[1083,1055,1042,1030],[1086,1050,1038,1028],[1089,1040,1028,1018],[1091,1025,1015,1008],[1093,1030,1018],[1095,1035,1022],[1098,1040,1025,1015],
[1100,1055,1040,1030],[1103,1060,1048,1038],[1106,1070,1058,1045],[1109,1075,1065,1055],[1112,1085,1070,1060],[1114,1140],[1115,1090,1078,1065],[1118,1100,1085,1075],[1120,1148,1135,1122,1105,1092],[1123,1125,1110,1100],[1125,1112,1100],[1127,1135,1120,1105],[1129,1175,1162,1155],[1131,1208,1195,1185],[1134,1215,1200,1188],[1137,1210,1195],[1139,1238,1225,1212],[1140,1256,1245],[1141,1245,1232,1215],[1144,1248,1235,1220],[1146,1240,1228,1210],[1148,1235,1225,1205],[1150,1228,1215],[1152,1230,1212,1198],[1155,1198,1188,1175],[1158,1200,1185,1172],[1160,1195,1180,1168],[1162,1182,1172],[1163,1160,1145],[1165,1125,1115,1105,1095],[1167,1160,1150,1118,1108,1100],[1170,1082,1080],[1172,1142,1125],[1175,1135,1122,1115],[1178,1140,1125,1118],[1180,1130,1115],[1182,1112,1105],[1185,1142,1118,1105,1100],[1188,1115,1105,1100],[1191,1118,1105,1100],[1193,1130,1125],[1194,1120,1110,1102],[1196,1130,1118,1105],[1198,1132,1122,1100],[1199,1100,1095],[1201,1180,1165,1150],[1203,1175,1160,1148],[1205,1170,1155],[1208,1155,1148,1142],[1211,1155,1145,1138],[1213,1185,1172],[1214,1150,1142,1138],[1216,1190,1178,1165,1150,1145],[1219,1219,1185,1175,1165],[1222,1210,1182,1172],[1225,1188,1175,1165],[1227,1190,1178],[1229,1172,1160,1150],[1231,1170,1158,1145],[1233,1168,1155,1148],[1235,1165,1155,1140],[1237,1160,1150],[1240,1148,1135,1125],[1242,1135,1125],[1244,1130,1120,1112],[1247,1120,1108,1098],[1250,1128,1115,1105],[1252,1132,1112,1100],[1254,1115,1105],[1256,1095,1090],[1258,1098,1090],[1259,1078,1062],[1262,1078,1065,1058],[1265,1062,1058],[1266,1045,1032],[1268,1045,1030,1018],[1270,1035,1020,1010],[1272,1015,1005],[1274,995,985,978],[1277,990,982],[1280,995,985,978],[1283,995,985,980],[1286,992,982],[1289,1000,988,982],[1292,998,988,980],[1295,1002,992,982],[1298,1002,990,982],[1301,1000,990],[1303,1010,1000],[1306,1018,1005,995],[1308,1025,1010],[1310,1020,1008],[1312,995,985],[1314,990,978],[1316,985,972,968],[1318,992,975,968,939,929,894],[1319,1038,1014],[1321,1095,1085,1072,1060,1055],[1323,1098,1085,1065,1052],[1325,1092,1075],[1327,1060,1050,1040],[1330,1045,1035,1025],[1333,1050,1038,1028],[1336,1048,1035,1028],[1339,1055,1040,1030],[1342,1060,1045,1030],[1345,1068,1050,1035],[1347,1062],[1348,1040,1030],[1349,1085,1082],[1350,1118,1105,1098],[1353,1112,1105],[1355,1130,1125],[1358,1138,1128],[1360,1145,1132],[1362,1148,1138,1130],[1363,1152,1142],[1367,1177],[1370,1128,1118],[1372,1125,1112],[1374,1118,1110],[1376,1092,1085],[1378,1095,1085,1078],[1381,1075,1065],[1384,1070,1060,1055],[1386,1068,1055],[1388,1072,1060],[1391,1085],[1393,1095],[1395,1118,1110],[1396,1122,1112],[1398,1130,1118,1110],[1400,1132,1120,1108],[1402,1125,1115,1100,1090],[1404,1120,1110],[1405,1105,1098,1085],[1408,1102,1095,1082,1080],[1410,1105,1085,1078]
];
const a07FlatDates = [1413,1415,1417,1419,1421,1423,1425,1427,1429,1431,1433,1435,1437,1439,1441,1443,1445,1447,1449,1451,1453,1455,1457,1459,1461,1463,1465,1467,1469,1471,1473,1475,1477,1479,1481,1483,1485,1487,1489,1491,1493,1495,1497,1499,1501,1503,1505,1507,1509,1511,1513,1515,1517,1519,1521,1523,1525,1527,1529,1531,1533,1535,1537,1539,1541,1543,1545,1547,1549,1551,1553,1555,1557,1559,1561,1563,1565,1567,1569,1572,1574,1577,1579,1581,1583,1586,1588,1590,1593,1595,1597,1600,1602,1604,1607,1609,1611,1614,1616,1618,1621,1623,1625,1628,1630,1632,1635,1637,1639,1642,1644,1646,1649,1651,1653,1656,1658,1660,1663,1665,1667,1670,1672,1674,1677,1679,1681,1684,1686,1688,1691,1693,1695,1698,1700,1702,1705,1707,1709,1712,1714,1716,1719,1721,1723,1726,1728,1730,1733,1735,1737,1740,1742,1744,1747,1749,1751,1754,1756,1758,1761,1763,1765,1768,1770,1772,1775,1777,1779,1782,1784,1786,1789,1791,1793,1796,1798,1800,1803,1805,1807,1810,1812,1814,1817,1819,1821,1824,1826,1828,1831,1833,1835,1838,1840,1842,1845,1847,1849,1852,1854,1856,1859,1861,1863,1866,1868,1870,1873,1875,1877,1880,1882,1884,1887,1889,1891,1894,1896,1898,1901,1903,1905,1908,1910,1912,1915,1917,1919];
const flatValue = 1000;

const W = 2086, H = 1031;
const svg = d3.select("#c");
const x = d3.scaleLinear().domain([0, 1922.7]).range([92.4, 2015.1]);
const y = d3.scaleLinear().domain([750, 1625]).range([972, 97]);

// page chrome
svg.append("rect").attr("x",0).attr("y",0).attr("width",W).attr("height",H).attr("fill","#fff");
svg.append("rect").attr("x",0).attr("y",0).attr("width",W).attr("height",50).attr("fill","#7DC97C");
const title = svg.append("text")
  .attr("font-family","'Liberation Sans',sans-serif").attr("font-weight","bold").attr("font-size",33).attr("fill","#000").text(titleText);
const titleWidth = title.node().getComputedTextLength();
title.attr("transform",`translate(32,38) scale(${1973/titleWidth},1)`);

// grid via d3 axes
const gy = svg.append("g").attr("transform",`translate(${x(0)},0)`)
  .call(d3.axisRight(y).tickValues(yTicks).tickSize(x(1922.7)-x(0)).tickFormat(""));
gy.select(".domain").remove();
gy.selectAll("line").attr("stroke","#D9D9D9").attr("stroke-width",2);
const gx = svg.append("g").attr("transform",`translate(0,${y(750)})`)
  .call(d3.axisTop(x).tickValues(xTicks).tickSize(y(750)-y(1625)).tickFormat(""));
gx.select(".domain").remove();
gx.selectAll("line").attr("stroke","#D9D9D9").attr("stroke-width",1.8);
gx.selectAll("g.tick").filter(d=>d===0).select("line").attr("stroke","#C4C4C4").attr("stroke-width",2);
svg.append("line").attr("x1",x(0)).attr("x2",x(1922.7)).attr("y1",y(axisCrossing)).attr("y2",y(axisCrossing)).attr("stroke","#BFBFBF").attr("stroke-width",2);
svg.append("line").attr("x1",x(0)-1).attr("x2",x(1922.7)).attr("y1",y(750)).attr("y2",y(750)).attr("stroke","#C4C4C4").attr("stroke-width",2);

const expand = rows => rows.flatMap(r => r.slice(1).map(v => [r[0], v]));
const flat = dates => dates.map(d => [d, flatValue]);

function plot(points, color, half, width){
  const d = d3.path();
  points.forEach(p => {
    const px = x(p[0]), py = y(p[1]);
    d.moveTo(px-half,py); d.lineTo(px+half,py);
    d.moveTo(px,py-half); d.lineTo(px,py+half);
  });
  svg.append("path").attr("d",d.toString()).attr("fill","none").attr("stroke",color).attr("stroke-width",width);
}
plot(expand(a10Rows), "#FFC000", 5, 1.5);
plot(expand(a04Rows), "#0070C0", 4, 2.5);
plot(expand(a07Rows).concat(flat(a07FlatDates)), "#FF0000", 4, 2.6);
plot(flat(a10FlatDates), "#FFC000", 5, 1.5);

// corner brackets and frame
const gold = "#FFC000";
[[0,49,22,4.5],[2063,49,23,4],[2080,49,6,18],[0,1022,22,8],[2063,1023,23,8],[2080,970,6,61]].forEach(r =>
  svg.append("rect").attr("x",r[0]).attr("y",r[1]).attr("width",r[2]).attr("height",r[3]).attr("fill",gold));
svg.append("rect").attr("x",.5).attr("y",.5).attr("width",W-1).attr("height",H-1).attr("fill","none").attr("stroke","#808080").attr("stroke-width",1);
</script></body></html>
